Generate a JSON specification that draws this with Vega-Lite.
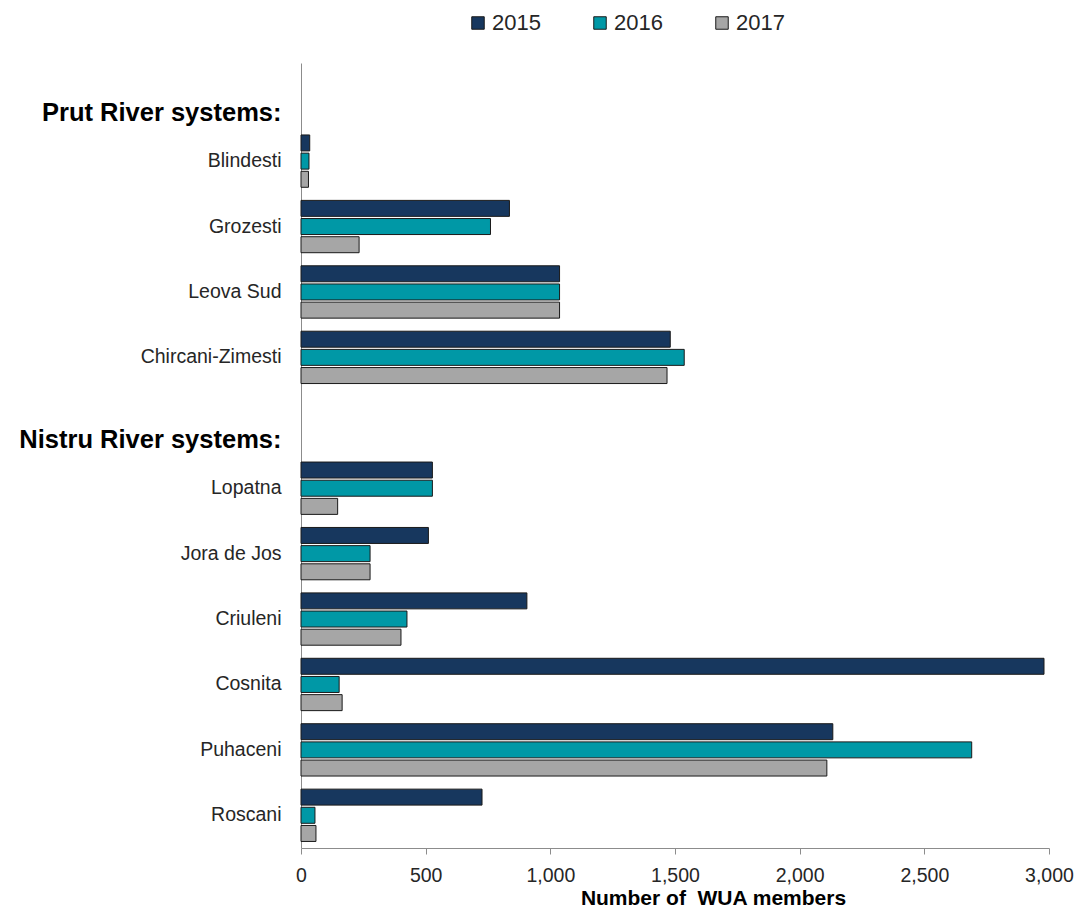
{
  "$schema": "https://vega.github.io/schema/vega-lite/v6.json",
  "autosize": {"type": "none"},
  "padding": {"left": 301, "top": 63, "right": 34, "bottom": 65},
  "width": 748,
  "height": 785,
  "background": "white",
  "config": {"view": {"stroke": null}, "font": "Liberation Sans"},
  "data": {"values": [
    {"system": "Blindesti", "year": "2015", "members": 35},
    {"system": "Blindesti", "year": "2016", "members": 32},
    {"system": "Blindesti", "year": "2017", "members": 30},
    {"system": "Grozesti", "year": "2015", "members": 836},
    {"system": "Grozesti", "year": "2016", "members": 760},
    {"system": "Grozesti", "year": "2017", "members": 233},
    {"system": "Leova Sud", "year": "2015", "members": 1037},
    {"system": "Leova Sud", "year": "2016", "members": 1037},
    {"system": "Leova Sud", "year": "2017", "members": 1037},
    {"system": "Chircani-Zimesti", "year": "2015", "members": 1481},
    {"system": "Chircani-Zimesti", "year": "2016", "members": 1537},
    {"system": "Chircani-Zimesti", "year": "2017", "members": 1468},
    {"system": "Lopatna", "year": "2015", "members": 527},
    {"system": "Lopatna", "year": "2016", "members": 527},
    {"system": "Lopatna", "year": "2017", "members": 147},
    {"system": "Jora de Jos", "year": "2015", "members": 511},
    {"system": "Jora de Jos", "year": "2016", "members": 277},
    {"system": "Jora de Jos", "year": "2017", "members": 277},
    {"system": "Criuleni", "year": "2015", "members": 906},
    {"system": "Criuleni", "year": "2016", "members": 425},
    {"system": "Criuleni", "year": "2017", "members": 401},
    {"system": "Cosnita", "year": "2015", "members": 2980},
    {"system": "Cosnita", "year": "2016", "members": 153},
    {"system": "Cosnita", "year": "2017", "members": 165},
    {"system": "Puhaceni", "year": "2015", "members": 2133},
    {"system": "Puhaceni", "year": "2016", "members": 2690},
    {"system": "Puhaceni", "year": "2017", "members": 2109},
    {"system": "Roscani", "year": "2015", "members": 726},
    {"system": "Roscani", "year": "2016", "members": 56},
    {"system": "Roscani", "year": "2017", "members": 60}
  ]},
  "mark": {"type": "bar", "stroke": "#1a1a1a", "strokeWidth": 1},
  "encoding": {
    "y": {
      "field": "system",
      "type": "nominal",
      "scale": {
        "domain": ["Prut River systems:", "Blindesti", "Grozesti", "Leova Sud", "Chircani-Zimesti", "Nistru River systems:", "Lopatna", "Jora de Jos", "Criuleni", "Cosnita", "Puhaceni", "Roscani"],
        "paddingInner": 0.2,
        "paddingOuter": 0.1
      },
      "axis": {
        "title": null,
        "ticks": false,
        "domainColor": "#8c8c8c",
        "labelPadding": 20,
        "labelColor": {"condition": {"test": "indexof(datum.value, 'systems') >= 0", "value": "#000000"}, "value": "#262626"},
        "labelFontSize": {"condition": {"test": "indexof(datum.value, 'systems') >= 0", "value": 25.5}, "value": 19.5},
        "labelFontWeight": {"condition": {"test": "indexof(datum.value, 'systems') >= 0", "value": "bold"}, "value": "normal"},
        "labelOffset": {"condition": {"test": "indexof(datum.value, 'systems') >= 0", "value": 17}, "value": 0},
        "labelLimit": 400
      }
    },
    "yOffset": {"field": "year", "type": "nominal", "scale": {"paddingInner": 0.12, "paddingOuter": 0}},
    "x": {
      "field": "members",
      "type": "quantitative",
      "scale": {"domain": [0, 3000], "nice": false},
      "axis": {
        "title": "Number of\u00a0\u00a0WUA members",
        "titleFontSize": 21,
        "titleFontWeight": "bold",
        "titleColor": "#000000",
        "titleX": 412,
        "titlePadding": 3,
        "values": [0, 500, 1000, 1500, 2000, 2500, 3000],
        "format": ",.0f",
        "grid": false,
        "domainColor": "#8c8c8c",
        "tickColor": "#8c8c8c",
        "tickSize": 6,
        "labelPadding": 12,
        "labelFlush": false,
        "labelFontSize": 19.5,
        "labelColor": "#262626"
      }
    },
    "color": {
      "field": "year",
      "type": "nominal",
      "scale": {"domain": ["2015", "2016", "2017"], "range": ["#17375E", "#0098A6", "#A6A6A6"]},
      "legend": {
        "title": null,
        "orient": "none",
        "direction": "horizontal",
        "legendX": 166,
        "legendY": -51,
        "symbolType": "square",
        "symbolSize": 156,
        "symbolStrokeColor": "#1a1a1a",
        "symbolStrokeWidth": 1,
        "labelFontSize": 22,
        "labelColor": "#262626",
        "labelOffset": 3,
        "columnPadding": 48
      }
    }
  }
}
